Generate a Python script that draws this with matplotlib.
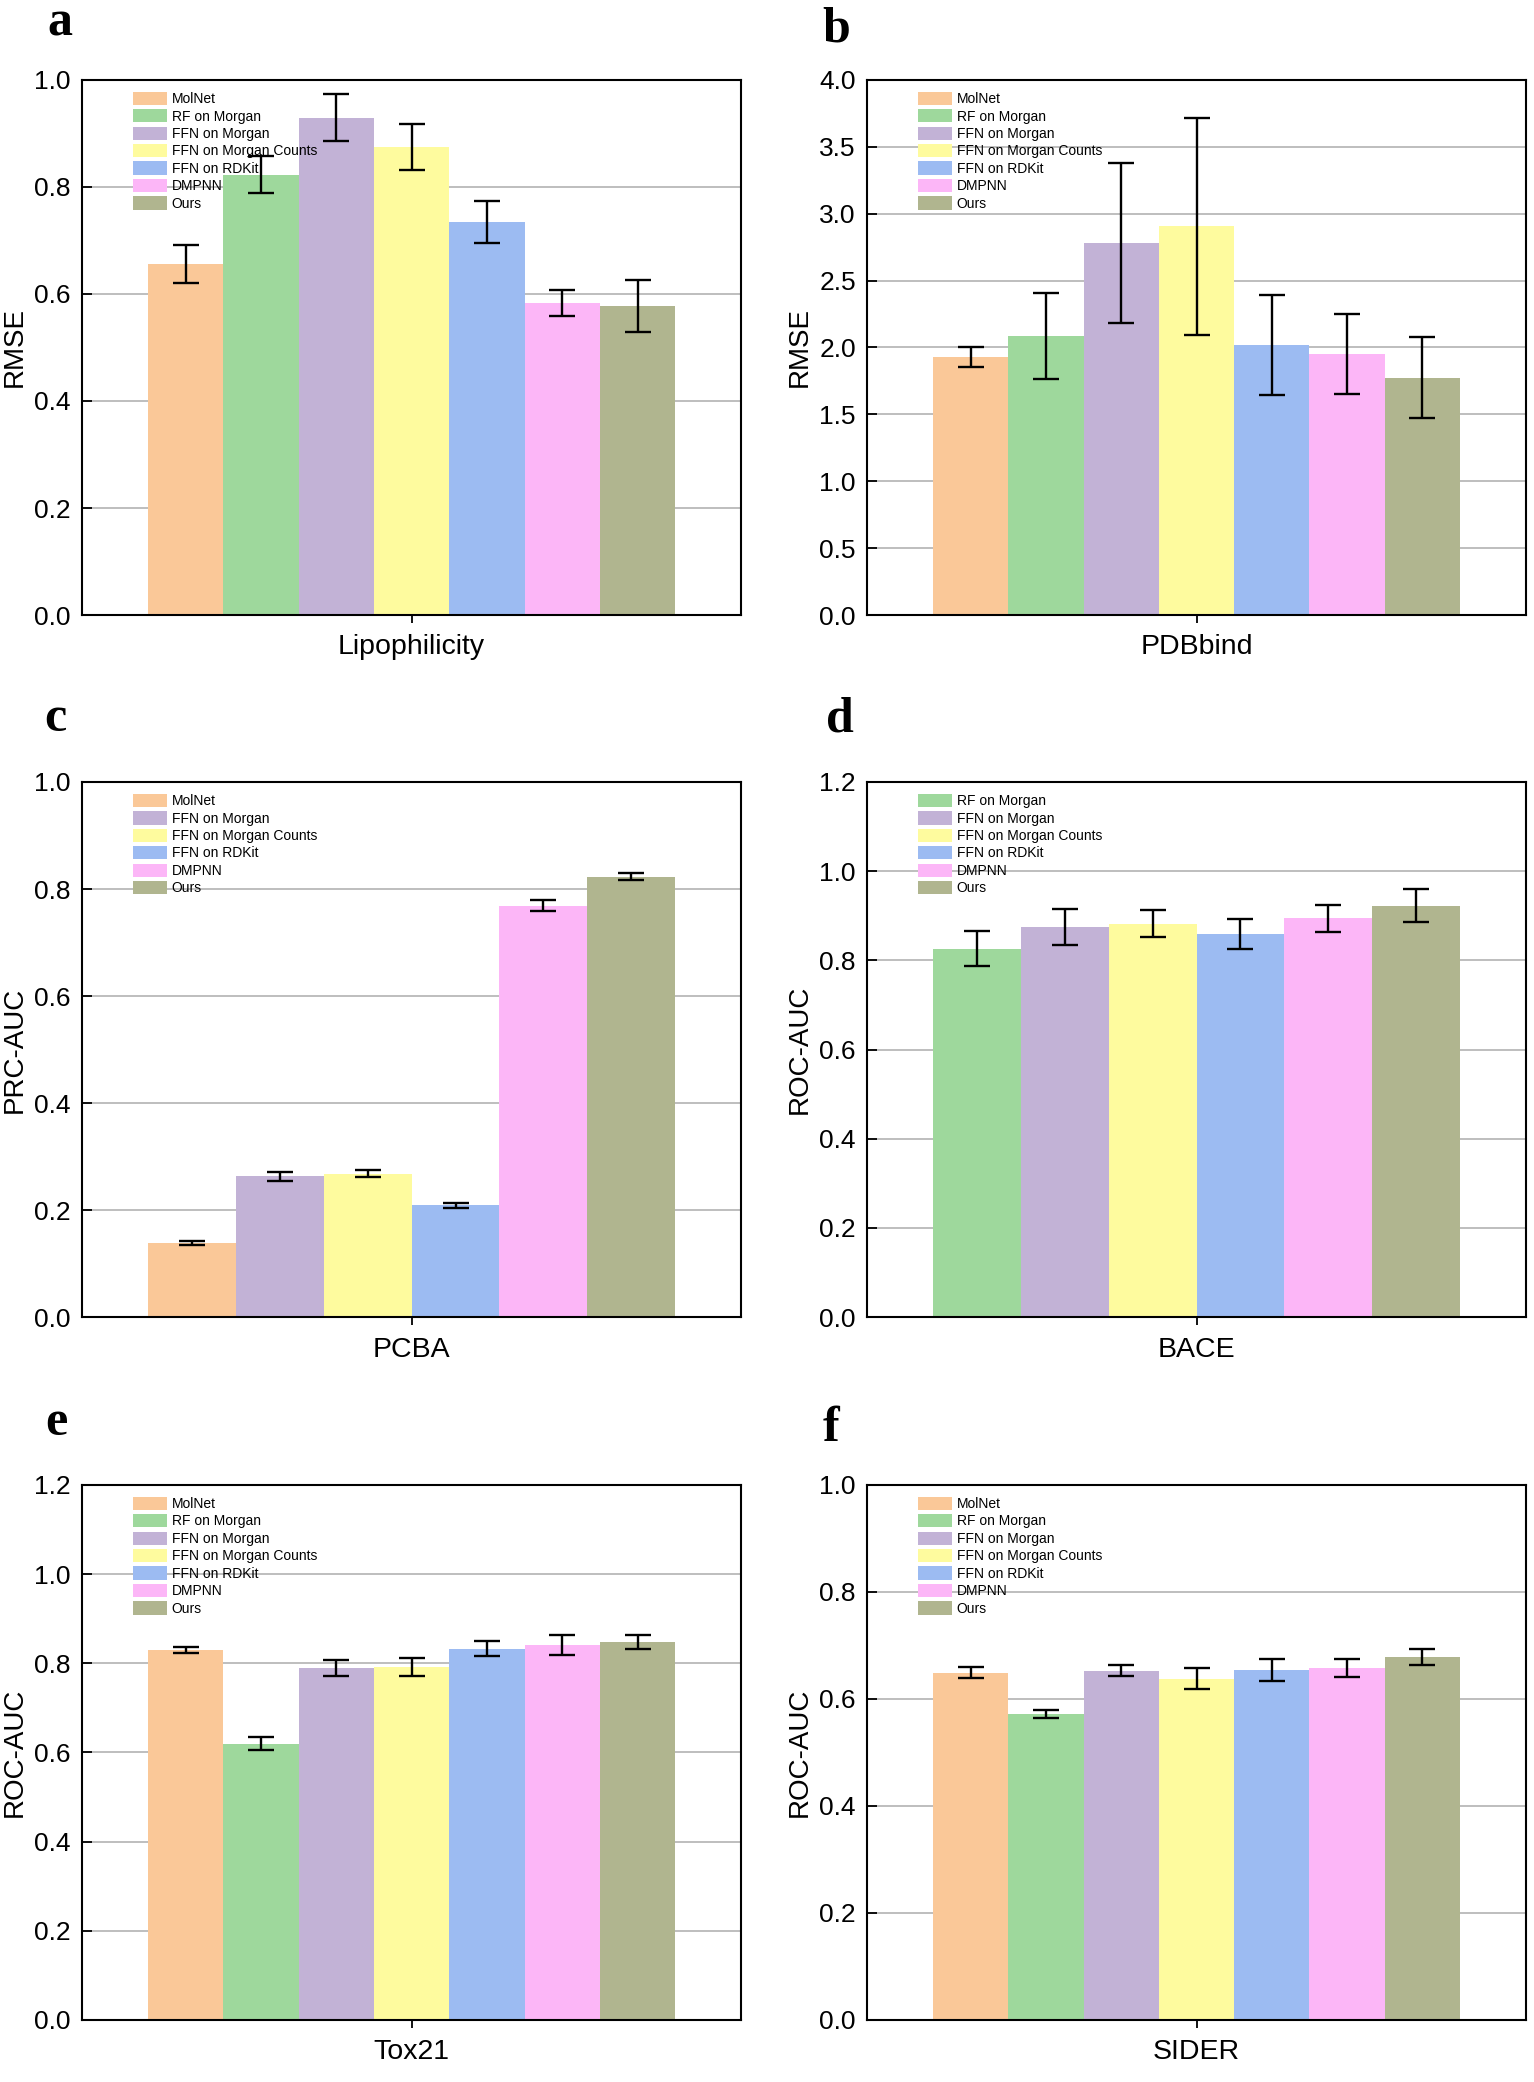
import matplotlib
matplotlib.use("Agg")
import matplotlib.pyplot as plt
from matplotlib.patches import Patch

plt.rcParams['font.family'] = ['Liberation Sans', 'DejaVu Sans']

# methods and colours
methods = ["MolNet", "RF on Morgan", "FFN on Morgan", "FFN on Morgan Counts",
           "FFN on RDKit", "DMPNN", "Ours"]
method_colors = ["#FAC898", "#9ED89C", "#C2B2D6", "#FEFB9E",
                 "#9CBBF2", "#FCB6F7", "#B0B58F"]

# a - Lipophilicity
lipo_methods = methods
lipo_vals = [0.656, 0.823, 0.929, 0.874, 0.735, 0.583, 0.578]
lipo_errs = [0.036, 0.035, 0.044, 0.043, 0.039, 0.024, 0.049]

# b - PDBbind
pdb_methods = methods
pdb_vals = [1.927, 2.086, 2.782, 2.905, 2.018, 1.953, 1.775]
pdb_errs = [0.073, 0.325, 0.600, 0.810, 0.376, 0.298, 0.300]

# c - PCBA (no RF)
pcba_methods = ["MolNet", "FFN on Morgan", "FFN on Morgan Counts",
                "FFN on RDKit", "DMPNN", "Ours"]
pcba_vals = [0.138, 0.263, 0.268, 0.209, 0.769, 0.823]
pcba_errs = [0.004, 0.009, 0.007, 0.005, 0.010, 0.006]

# d - BACE (no MolNet)
bace_methods = ["RF on Morgan", "FFN on Morgan", "FFN on Morgan Counts",
                "FFN on RDKit", "DMPNN", "Ours"]
bace_vals = [0.826, 0.875, 0.882, 0.859, 0.894, 0.923]
bace_errs = [0.039, 0.040, 0.030, 0.034, 0.031, 0.036]

# e - Tox21
tox_methods = methods
tox_vals = [0.830, 0.620, 0.789, 0.792, 0.833, 0.841, 0.848]
tox_errs = [0.006, 0.015, 0.018, 0.020, 0.017, 0.022, 0.015]

# f - SIDER
sider_methods = methods
sider_vals = [0.649, 0.572, 0.653, 0.638, 0.654, 0.658, 0.678]
sider_errs = [0.010, 0.008, 0.010, 0.020, 0.020, 0.017, 0.015]

color_of = dict(zip(methods, method_colors))


def draw_panel(ax, name, names, vals, errs, ylabel, ymax, ystep):
    n = len(names)
    w = 0.8 / n
    xs = [(i - (n - 1) / 2) * w for i in range(n)]
    cols = [color_of[m] for m in names]
    ax.bar(xs, vals, width=w, color=cols, zorder=2)
    ax.errorbar(xs, vals, yerr=errs, fmt='none', ecolor='black',
                elinewidth=1.7, capsize=9.5, capthick=1.7, zorder=3)

    ax.set_xlim(-0.5, 0.5)
    ax.set_ylim(0, ymax)
    nt = int(round(ymax / ystep))
    ticks = [i * ystep for i in range(nt + 1)]
    ax.set_yticks(ticks)
    ax.set_yticklabels([f"{t:.1f}" for t in ticks])
    ax.set_xticks([0])
    ax.set_xticklabels([name])
    ax.tick_params(axis='y', direction='in', length=7, width=1.3,
                   labelsize=19, pad=8)
    ax.tick_params(axis='x', direction='out', length=6, width=1.3,
                   labelsize=20.5, pad=8)
    ax.set_ylabel(ylabel, fontsize=20, labelpad=5)
    ax.yaxis.grid(True, color='#BEBEBE', linewidth=1.4, zorder=1)
    ax.set_axisbelow(True)
    for s in ax.spines.values():
        s.set_linewidth(1.5)

    handles = [Patch(facecolor=color_of[m], edgecolor='none') for m in names]
    ax.legend(handles, names, loc='upper left', bbox_to_anchor=(0.078, 0.978),
              frameon=False, fontsize=10, labelspacing=0.22,
              handlelength=2.4, handleheight=1.1, handletextpad=0.35,
              borderpad=0, borderaxespad=0)


fig = plt.figure(figsize=(15.34, 20.82), dpi=100)

W, H = 0.4296, 0.2570
lefts = [0.0535, 0.5652]
bottoms = [0.7046, 0.3674, 0.0298]

panels = [
    ("Lipophilicity", lipo_methods, lipo_vals, lipo_errs, "RMSE", 1.0, 0.2),
    ("PDBbind", pdb_methods, pdb_vals, pdb_errs, "RMSE", 4.0, 0.5),
    ("PCBA", pcba_methods, pcba_vals, pcba_errs, "PRC-AUC", 1.0, 0.2),
    ("BACE", bace_methods, bace_vals, bace_errs, "ROC-AUC", 1.2, 0.2),
    ("Tox21", tox_methods, tox_vals, tox_errs, "ROC-AUC", 1.2, 0.2),
    ("SIDER", sider_methods, sider_vals, sider_errs, "ROC-AUC", 1.0, 0.2),
]

for k, p in enumerate(panels):
    ax = fig.add_axes([lefts[k % 2], bottoms[k // 2], W, H])
    draw_panel(ax, *p)

# panel letters (pixel positions of baseline)
letters = [("a", 47, 35), ("b", 822, 41), ("c", 44, 731),
           ("d", 826, 731), ("e", 45, 1435), ("f", 823, 1441)]
for txt, px, py in letters:
    fig.text(px / 1534, 1 - py / 2082, txt, fontsize=36, fontweight='bold',
             family=['Liberation Serif', 'DejaVu Serif'], va='baseline', ha='left')

fig.savefig("out.png", dpi=100)
